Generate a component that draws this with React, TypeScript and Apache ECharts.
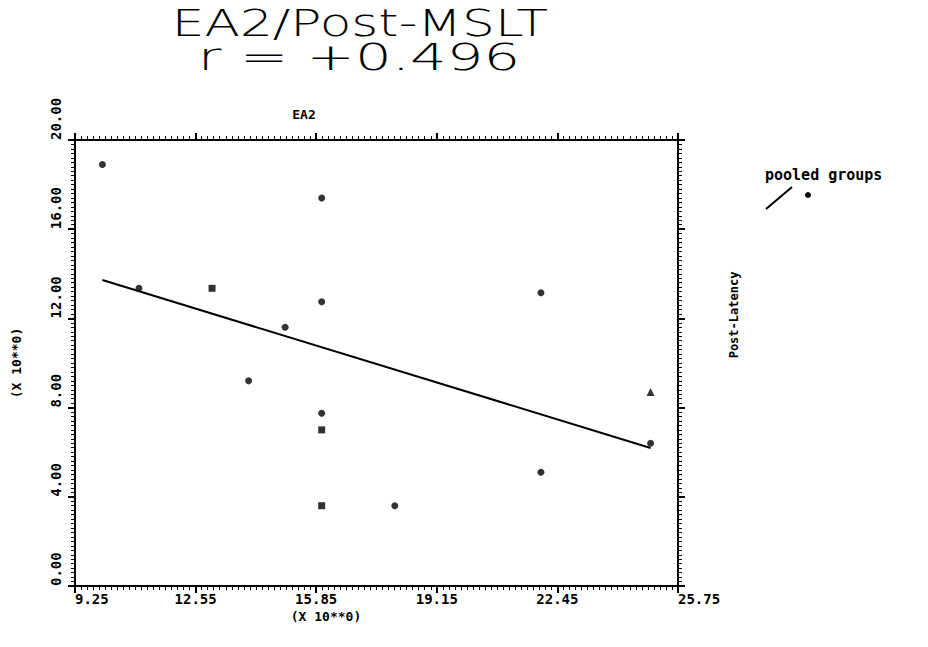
import React, { useEffect, useRef } from "react";
import * as echarts from "echarts";

const xTicks = [9.25, 12.55, 15.85, 19.15, 22.45, 25.75];
const yTicks = [0, 4, 8, 12, 16, 20];

const circleX = [10, 11, 14, 15, 16, 16, 16, 18, 22, 22, 25];
const circleY = [18.9, 13.35, 9.2, 11.6, 17.4, 12.75, 7.75, 3.6, 13.15, 5.1, 6.4];
const squareX = [13, 16, 16];
const squareY = [13.35, 7.0, 3.6];
const triangleX = [25];
const triangleY = [8.7];
const fitX = [10, 25];
const fitY = [13.72, 6.19];

const titleText = "EA2/Post-MSLT";
const rText = "r = +0.496";
const topAxisName = "EA2";
const rightAxisName = "Post-Latency";
const scaleName = "(X 10**0)";
const seriesName = "pooled groups";

const MONO = "DejaVu Sans Mono";
const BLACK = "#000";

function pairs(xs: number[], ys: number[]) {
  return xs.map((x, i) => [x, ys[i]]);
}

export default function App() {
  const ref = useRef<HTMLDivElement>(null);
  useEffect(() => {
    if (!ref.current) return;
    const chart = echarts.init(ref.current, null, { renderer: "svg" });
    const xInterval = Math.round((xTicks[1] - xTicks[0]) * 100) / 100;
    const yInterval = yTicks[1] - yTicks[0];
    const xBase = (pos: "top" | "bottom", showLabel: boolean) => ({
      type: "value",
      position: pos,
      min: xTicks[0],
      max: xTicks[xTicks.length - 1],
      interval: xInterval,
      axisLine: { show: true, onZero: false, lineStyle: { color: BLACK, width: 2 } },
      axisTick: { show: true, length: 7, lineStyle: { color: BLACK, width: 2 } },
      minorTick: { show: true, splitNumber: 20, length: 4, lineStyle: { color: BLACK, width: 1 } },
      splitLine: { show: false },
      minorSplitLine: { show: false },
      axisLabel: {
        show: showLabel,
        formatter: (v: number) => v.toFixed(2),
        color: BLACK,
        fontFamily: MONO,
        fontWeight: "bold",
        fontSize: 14,
        margin: 6,
        showMinLabel: true,
        showMaxLabel: true,
        alignMinLabel: "left",
        alignMaxLabel: "left",
      },
    });
    const yBase = (pos: "left" | "right", showLabel: boolean) => ({
      type: "value",
      position: pos,
      min: yTicks[0],
      max: yTicks[yTicks.length - 1],
      interval: yInterval,
      axisLine: { show: true, onZero: false, lineStyle: { color: BLACK, width: 2 } },
      axisTick: { show: true, length: 7, lineStyle: { color: BLACK, width: 2 } },
      minorTick: { show: true, splitNumber: 20, length: 4, lineStyle: { color: BLACK, width: 1 } },
      splitLine: { show: false },
      minorSplitLine: { show: false },
      axisLabel: {
        show: showLabel,
        rotate: 90,
        align: "left",
        formatter: (v: number) => v.toFixed(2),
        color: BLACK,
        fontFamily: MONO,
        fontWeight: "bold",
        fontSize: 14,
        margin: 12,
        showMinLabel: true,
        showMaxLabel: true,
      },
    });
    const leftAxis: any = yBase("left", true);
    leftAxis.name = scaleName;
    leftAxis.nameLocation = "middle";
    leftAxis.nameRotate = 90;
    leftAxis.nameGap = 52;
    leftAxis.nameTextStyle = { color: BLACK, fontFamily: MONO, fontWeight: "bold", fontSize: 13 };

    const option: any = {
      animation: false,
      backgroundColor: "#fff",
      grid: { left: 75, top: 140, width: 603, height: 446, containLabel: false },
      xAxis: [xBase("bottom", true), xBase("top", false)],
      yAxis: [leftAxis, yBase("right", false)],
      series: [
        {
          name: seriesName,
          type: "scatter",
          symbol: "circle",
          symbolSize: 7,
          itemStyle: { color: BLACK },
          data: pairs(circleX, circleY),
        },
        {
          name: seriesName,
          type: "scatter",
          symbol: "rect",
          symbolSize: 7,
          itemStyle: { color: BLACK },
          data: pairs(squareX, squareY),
        },
        {
          name: seriesName,
          type: "scatter",
          symbol: "triangle",
          symbolSize: 8,
          itemStyle: { color: BLACK },
          data: pairs(triangleX, triangleY),
        },
        {
          name: seriesName,
          type: "line",
          symbol: "none",
          lineStyle: { color: BLACK, width: 2 },
          data: pairs(fitX, fitY),
        },
      ],
      graphic: [
        {
          type: "text",
          x: 360,
          y: 23,
          scaleX: 1.4,
          style: {
            text: titleText,
            fontFamily: "DejaVu Sans",
            fontWeight: 200,
            fontSize: 37,
            fill: BLACK,
            align: "center",
            verticalAlign: "middle",
          },
        },
        {
          type: "text",
          x: 359,
          y: 57,
          scaleX: 1.56,
          style: {
            text: rText,
            fontFamily: "DejaVu Sans",
            fontWeight: 200,
            fontSize: 37,
            fill: BLACK,
            align: "center",
            verticalAlign: "middle",
          },
        },
        {
          type: "text",
          x: 304,
          y: 114,
          style: {
            text: topAxisName,
            fontFamily: MONO,
            fontWeight: "bold",
            fontSize: 13,
            fill: BLACK,
            align: "center",
            verticalAlign: "middle",
          },
        },
        {
          type: "text",
          x: 326,
          y: 616,
          style: {
            text: scaleName,
            fontFamily: MONO,
            fontWeight: "bold",
            fontSize: 13,
            fill: BLACK,
            align: "center",
            verticalAlign: "middle",
          },
        },
        {
          type: "text",
          x: 734,
          y: 315,
          rotation: Math.PI / 2,
          style: {
            text: rightAxisName,
            fontFamily: MONO,
            fontWeight: "bold",
            fontSize: 12,
            fill: BLACK,
            align: "center",
            verticalAlign: "middle",
          },
        },
        {
          type: "text",
          x: 765,
          y: 175,
          style: {
            text: seriesName,
            fontFamily: MONO,
            fontWeight: "bold",
            fontSize: 15,
            fill: BLACK,
            align: "left",
            verticalAlign: "middle",
          },
        },
        {
          type: "line",
          shape: { x1: 766, y1: 209, x2: 792, y2: 187 },
          style: { stroke: BLACK, lineWidth: 2 },
        },
        {
          type: "circle",
          shape: { cx: 808, cy: 195, r: 3 },
          style: { fill: BLACK },
        },
      ],
    };
    chart.setOption(option);
    return () => chart.dispose();
  }, []);
  return (
    <div
      ref={ref}
      style={{ position: "fixed", left: 0, top: 0, width: 928, height: 647, background: "#fff" }}
    />
  );
}
